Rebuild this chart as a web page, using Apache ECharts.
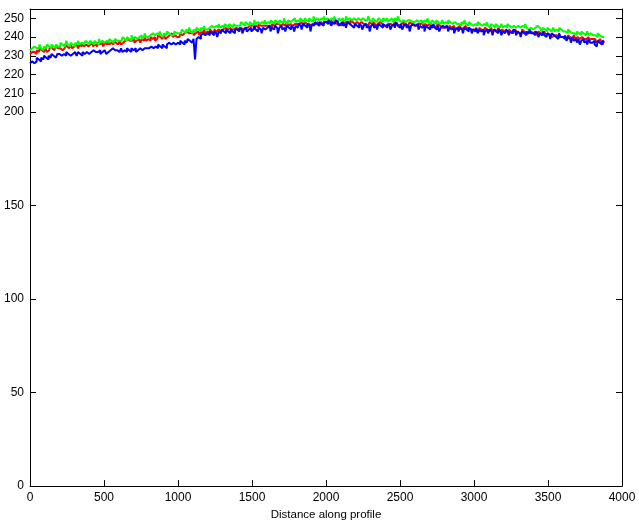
<!DOCTYPE html>
<html><head><meta charset="utf-8">
<script src="https://cdn.jsdelivr.net/npm/echarts@6/dist/echarts.min.js"></script>
<style>html,body{margin:0;padding:0;background:#fff}#c{width:639px;height:526px}</style>
</head><body><div id="c"></div>
<script>
const xStep = 10; // distance spacing of samples
const redValues = [
231,232,233,232,231,233,232,234,233,232,233,234,232,233,235,234,233,234,235,234,
234,235,233,234,236,235,234,235,236,234,235,236,235,234,236,235,237,235,236,235,
235,236,237,235,236,235,237,236,237,236,235,237,236,238,236,237,236,238,237,236,
237,238,236,237,238,237,239,238,237,238,239,237,238,239,238,237,239,238,240,238,
239,238,240,239,240,238,239,241,240,239,240,241,239,240,241,240,242,240,241,240,
241,240,242,241,242,241,243,242,241,242,243,241,242,243,242,241,243,242,244,242,
243,242,244,243,242,244,243,244,245,243,244,243,245,244,243,245,244,245,244,245,
245,244,245,246,244,245,246,245,246,245,246,247,245,246,245,247,246,246,247,246,
246,247,246,245,247,246,247,246,247,246,245,247,246,247,248,246,247,246,247,247,
247,246,247,248,247,246,248,247,247,248,246,247,248,247,248,247,246,248,247,248,
247,248,247,248,249,247,248,247,248,247,246,248,247,248,247,248,247,249,248,247,
247,248,247,246,248,247,248,247,246,247,248,247,248,247,246,247,248,247,247,246,
247,246,247,248,247,246,247,248,247,246,247,247,248,246,247,246,247,248,247,246,
247,246,247,246,247,248,246,247,246,245,247,246,247,246,245,246,247,246,245,246,
245,246,245,244,246,245,246,245,244,245,246,245,244,245,246,244,245,244,245,244,
244,245,244,243,245,244,243,244,245,244,243,244,245,243,244,243,244,245,243,244,
243,244,243,242,244,243,242,243,244,243,242,243,242,244,243,242,243,242,243,242,
242,243,242,241,243,242,241,242,243,241,242,241,242,240,241,242,241,240,241,240,
240,241,240,239,241,240,239,240,241,239,240,239,238,240,239,238,239,240,238,239,
239,238,239,237,238,239,237,236,238];
const greenValues = [
233,234,233,235,234,233,234,236,234,233,235,234,236,235,234,236,235,234,236,235,
235,237,236,235,236,238,236,235,237,236,235,237,236,238,236,237,236,235,238,237,
236,238,237,236,238,237,236,239,237,238,237,236,238,237,239,238,237,238,239,238,
238,239,238,240,239,238,240,239,238,241,239,240,239,238,240,241,239,240,242,240,
240,241,240,242,241,240,242,241,243,241,240,242,241,243,242,241,242,241,243,242,
242,243,242,244,243,242,244,243,245,243,242,244,243,245,244,243,245,244,246,244,
244,245,244,246,245,244,246,245,247,245,246,245,247,246,245,247,246,245,247,246,
246,247,246,248,247,246,248,247,246,248,247,246,249,247,248,247,246,248,247,249,
247,248,247,249,248,247,249,248,247,249,248,248,250,248,247,249,248,249,248,250,
248,249,248,250,249,248,250,249,248,250,249,248,251,249,250,249,248,250,249,251,
249,250,249,248,250,249,251,249,248,250,249,250,248,249,251,249,250,249,248,250,
249,248,250,249,248,250,249,248,249,251,249,248,250,249,248,249,250,249,248,250,
249,250,248,249,250,249,248,250,249,251,249,248,249,250,248,249,250,249,248,249,
248,249,250,248,249,248,247,249,248,250,248,247,249,248,247,249,248,247,248,249,
247,248,247,249,248,247,246,248,247,248,247,246,248,247,249,247,246,248,247,246,
246,247,246,248,247,246,245,247,246,248,246,245,247,246,245,247,246,245,246,247,
245,246,245,247,246,245,244,246,245,244,246,245,244,246,245,247,245,244,245,244,
244,245,244,246,245,244,243,245,244,243,245,244,243,244,245,243,244,243,245,244,
243,244,243,242,244,243,242,243,242,241,243,242,241,243,242,241,242,243,241,242,
241,242,241,240,242,241,240,241,240];
const blueValues = [
226,227,228,226,227,229,228,227,229,228,230,229,228,230,229,231,230,229,230,231,
231,230,229,231,230,232,231,230,229,231,232,231,230,232,231,230,232,231,232,231,
231,232,231,233,232,231,232,233,231,232,233,232,231,232,233,232,234,233,232,233,
232,233,234,232,233,232,234,233,232,234,233,234,232,233,234,235,233,234,235,234,
234,233,235,234,233,235,234,236,235,234,236,235,234,236,237,236,235,237,236,237,
237,236,238,237,236,238,237,239,238,237,238,239,228,239,240,239,241,242,241,242,
242,241,243,242,241,243,242,240,243,242,244,243,242,244,243,242,244,243,242,244,
244,243,245,244,242,244,245,243,244,245,243,244,246,244,243,245,244,242,245,244,
245,244,246,243,245,244,246,245,242,245,246,244,245,243,246,245,244,246,245,243,
246,245,247,246,244,247,246,245,247,246,243,247,246,248,247,246,248,247,246,248,
248,247,249,248,246,248,247,249,248,246,247,248,246,247,245,248,247,246,247,245,
247,246,245,247,246,244,246,247,245,246,243,246,247,245,246,244,247,246,245,247,
246,245,247,246,244,246,247,245,248,246,245,247,244,246,247,245,246,243,246,247,
246,245,247,244,246,245,246,243,246,245,244,246,245,247,245,244,246,243,245,246,
245,244,246,243,245,244,245,242,244,245,243,245,244,242,245,244,243,245,244,242,
244,243,245,242,244,243,244,241,243,244,242,244,243,241,244,243,242,244,243,241,
243,242,244,243,241,243,242,244,243,241,243,242,240,243,242,241,243,242,244,242,
242,241,243,242,240,242,241,243,241,240,242,241,239,242,241,240,241,239,242,240,
240,239,241,238,240,239,237,240,238,239,237,239,236,238,239,237,238,236,239,237,
237,238,236,235,238,237,236,238,237];
const yTicks = [0,50,100,150,200,210,220,230,240,250];
const xLabel = 'Distance along profile';

const toPairs = arr => arr.map((v,i)=>[i*xStep, v]);
const font = (size) => ({fontFamily:'Liberation Sans, Arial, sans-serif', fontSize:size || 12, color:'#000'});
const line = () => ({show:true, onZero:false, lineStyle:{color:'#000', width:1}});
const tick = (extra) => Object.assign({show:true, inside:true, length:6, lineStyle:{color:'#000', width:1}}, extra || {});
const fmt = v => String(v);

const chart = echarts.init(document.getElementById('c'), null, {renderer:'canvas'});
chart.setOption({
  animation:false,
  backgroundColor:'#fff',
  grid:{left:30, right:17, top:9, bottom:39, containLabel:false},
  xAxis:[
    {type:'value', position:'bottom', min:0, max:4000, interval:500,
     axisLine:line(), axisTick:tick(), splitLine:{show:false},
     axisLabel:Object.assign({margin:6, formatter:fmt}, font()),
     name:xLabel, nameLocation:'middle', nameGap:22,
     nameTextStyle:font(11.5)},
    {type:'value', position:'top', min:0, max:4000, interval:500,
     axisLine:line(), axisTick:tick(), splitLine:{show:false}, axisLabel:{show:false}}
  ],
  yAxis:[
    {type:'value', position:'left', min:0, max:255,
     axisLine:line(), axisTick:tick({customValues:yTicks}),
     splitLine:{show:false},
     axisLabel:Object.assign({customValues:yTicks, margin:6, formatter:fmt}, font())},
    {type:'value', position:'right', min:0, max:255,
     axisLine:line(), axisTick:tick({customValues:yTicks}),
     splitLine:{show:false}, axisLabel:{show:false}}
  ],
  series:[
    {type:'line', data:toPairs(redValues), step:'middle', showSymbol:false, lineStyle:{color:'#ff0000', width:2}, itemStyle:{color:'#ff0000'}},
    {type:'line', data:toPairs(greenValues), step:'middle', showSymbol:false, lineStyle:{color:'#00ff00', width:2}, itemStyle:{color:'#00ff00'}},
    {type:'line', data:toPairs(blueValues), step:'middle', showSymbol:false, lineStyle:{color:'#0000ff', width:2}, itemStyle:{color:'#0000ff'}}
  ]
});
</script></body></html>
